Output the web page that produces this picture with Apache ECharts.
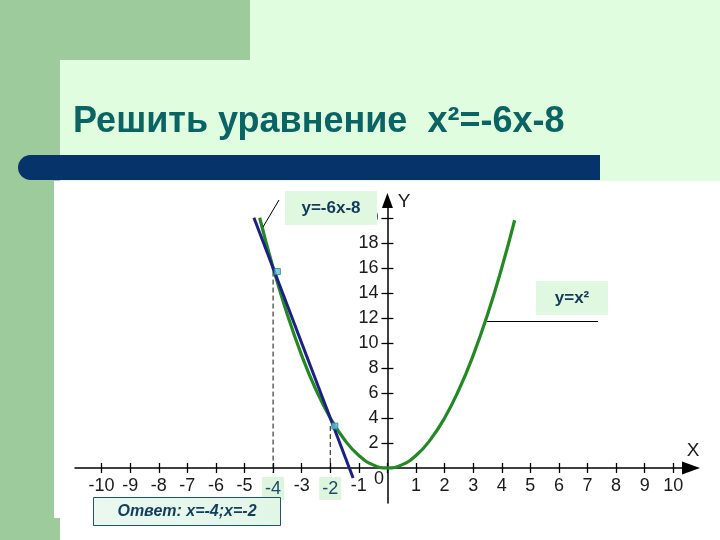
<!DOCTYPE html>
<html>
<head>
<meta charset="utf-8">
<script src="https://cdn.jsdelivr.net/npm/echarts@6/dist/echarts.min.js"></script>
<style>
html,body{margin:0;padding:0;background:#fff;}
.bg{position:absolute;}
#main{position:absolute;left:0;top:0;width:720px;height:540px;}
</style>
</head>
<body>
<div class="bg" style="left:0;top:0;width:720px;height:181px;background:#e0fde0"></div>
<div class="bg" style="left:0;top:0;width:250px;height:60px;background:#9ecb9b"></div>
<div class="bg" style="left:0;top:0;width:60px;height:181px;background:#9ecb9b"></div>
<div class="bg" style="left:60px;top:60px;width:660px;height:121px;background:#e0fde0;border-top-left-radius:22px"></div>
<div class="bg" style="left:0;top:181px;width:54px;height:359px;background:#9ecb9b"></div>
<div class="bg" style="left:0;top:518px;width:60px;height:22px;background:#9ecb9b"></div>
<div class="bg" style="left:18px;top:155px;width:582px;height:25px;background:#05336a;border-radius:12.5px 0 0 12.5px"></div>
<div id="main"></div>
<script>
// деления и подписи осей
var xTicks=[-10,-9,-8,-7,-6,-5,-4,-3,-2,-1,0,1,2,3,4,5,6,7,8,9,10];
var xLabels=[-10,-9,-8,-7,-6,-5,-4,-3,-2,-1,1,2,3,4,5,6,7,8,9,10];
var yTicks=[2,4,6,8,10,12,14,16,18,20];
var xMarked=[-4,-2];

// парабола y=x²
var parX=[-4.47,-4,-3.5,-3,-2.5,-2,-1.5,-1,-0.5,0,0.5,1,1.5,2,2.5,3,3.5,4,4.45];
var parY=[20,16,12.25,9,6.25,4,2.25,1,0.25,0,0.25,1,2.25,4,6.25,9,12.25,16,19.8];

// прямая y=-6x-8
var linX=[-4.67,-1.2];
var linY=[20,-0.8];

// точки пересечения и пунктиры
var rootX=[-3.85,-1.84];
var rootY=[15.7,3.35];
var guideX=[-4,-2];
var guideTop=[15.7,3.35];
var guideBottom=[-0.4,0];

var gridLeft=75,gridTop=200.5,gridW=616,gridH=302.5;
var xMin=-10.93,xMax=10.62,yMin=-2.8,yMax=21.38;
// сдвиг осей внутрь сетки, чтобы они прошли через ноль
var yAxisShift=-gridW*(0-xMin)/(xMax-xMin);
var xAxisShift=-gridH*(0-yMin)/(yMax-yMin);

var chart=echarts.init(document.getElementById('main'),null,{renderer:'canvas'});

function pairs(xs,ys){
	var a=[];
	for(var i=0;i<xs.length;i++){a.push([xs[i],ys[i]]);}
	return a;
}

var series=[
	{type:'line',data:pairs(parX,parY),smooth:true,showSymbol:false,
		lineStyle:{color:'#238a23',width:3.2},z:3,silent:true},
	{type:'line',data:pairs(linX,linY),showSymbol:false,
		lineStyle:{color:'#1c1f85',width:3},z:4,silent:true}
];
for(var i=0;i<guideX.length;i++){
	series.push({type:'line',data:[[guideX[i],guideTop[i]],[guideX[i],guideBottom[i]]],showSymbol:false,
		lineStyle:{color:'#111',width:1,type:[5,3]},z:2,silent:true});
}
series.push({type:'scatter',data:pairs(rootX,rootY),symbol:'rect',symbolSize:6,
	itemStyle:{color:'#5cc8dc',borderColor:'#2b7f99',borderWidth:1},z:6,silent:true});

var axisFont={fontFamily:'"Liberation Sans", Arial',fontSize:18,color:'#1a1a1a'};

var option={
	animation:false,
	backgroundColor:'transparent',
	grid:{left:gridLeft,top:gridTop,width:gridW,height:gridH,containLabel:false},
	xAxis:[
		{type:'value',min:xMin,max:xMax,position:'bottom',offset:xAxisShift,
			axisLine:{onZero:false,symbol:['none','triangle'],symbolSize:[13,18],lineStyle:{color:'#000',width:1.5}},
			axisTick:{customValues:xTicks,length:5,lineStyle:{color:'#000',width:1.3}},
			axisLabel:Object.assign({customValues:xLabels,margin:9,
				formatter:function(v){return xMarked.indexOf(v)>=0?'{h|'+v+'}':String(v);},
				rich:{h:{fontFamily:'"Liberation Sans", Arial',fontSize:18,color:'#1b4a6b',backgroundColor:'#dcf5dc',padding:[3,3,2,3]}}
			},axisFont),
			splitLine:{show:false}},
		{type:'value',min:xMin,max:xMax,position:'bottom',offset:xAxisShift,
			axisLine:{onZero:false,show:false},
			axisTick:{customValues:xTicks,inside:true,length:5,lineStyle:{color:'#000',width:1.3}},
			axisLabel:{show:false},splitLine:{show:false}}
	],
	yAxis:[
		{type:'value',min:yMin,max:yMax,position:'left',offset:yAxisShift,
			axisLine:{onZero:false,symbol:['none','triangle'],symbolSize:[11,15],lineStyle:{color:'#000',width:1.5}},
			axisTick:{customValues:yTicks,length:6,lineStyle:{color:'#000',width:1.3}},
			axisLabel:Object.assign({customValues:yTicks,margin:9},axisFont),
			splitLine:{show:false}},
		{type:'value',min:yMin,max:yMax,position:'left',offset:yAxisShift,
			axisLine:{onZero:false,show:false},
			axisTick:{customValues:yTicks,inside:true,length:6,lineStyle:{color:'#000',width:1.3}},
			axisLabel:{show:false},splitLine:{show:false}}
	],
	series:series
};
chart.setOption(option);

// подписи, привязанные к осям
var o=chart.convertToPixel({xAxisIndex:0,yAxisIndex:0},[0,0]);
var boxFont='bold 17px "Liberation Sans", Arial';
chart.setOption({
	graphic:[
		{type:'text',z:50,style:{x:73,y:122.5,text:'Решить уравнение  x²=-6x-8',
			font:'bold 36px "Liberation Sans", Arial',fill:'#0b6464',verticalAlign:'middle'}},
		{type:'text',z:50,style:{x:o[0]-8.5,y:o[1]+11.5,text:'0',align:'center',verticalAlign:'middle',
			font:'18px "Liberation Sans", Arial',fill:'#1a1a1a'}},
		{type:'text',z:50,style:{x:693,y:451,text:'X',align:'center',verticalAlign:'middle',
			font:'19px "Liberation Sans", Arial',fill:'#1a1a1a'}},
		{type:'text',z:50,style:{x:404,y:202,text:'Y',align:'center',verticalAlign:'middle',
			font:'19px "Liberation Sans", Arial',fill:'#1a1a1a'}},
		// y=-6x-8
		{type:'line',z:50,shape:{x1:263,y1:227,x2:279,y2:200},style:{stroke:'#000',lineWidth:1}},
		{type:'rect',z:50,shape:{x:285,y:191,width:92,height:34},style:{fill:'#e0f8e0'}},
		{type:'text',z:51,style:{x:331,y:208,text:'y=-6x-8',align:'center',verticalAlign:'middle',
			font:boxFont,fill:'#123a5a'}},
		// y=x²
		{type:'line',z:50,shape:{x1:487,y1:321.5,x2:598,y2:321.5},style:{stroke:'#000',lineWidth:1}},
		{type:'rect',z:50,shape:{x:536,y:281,width:72,height:34},style:{fill:'#e0f8e0'}},
		{type:'text',z:51,style:{x:572,y:298,text:'y=x²',align:'center',verticalAlign:'middle',
			font:boxFont,fill:'#123a5a'}},
		// ответ
		{type:'rect',z:50,shape:{x:93.5,y:497.5,width:187,height:28},
			style:{fill:new echarts.graphic.LinearGradient(0,0,1,0,[{offset:0,color:'#eaf8f0'},{offset:1,color:'#e2f6e6'}]),
			stroke:'#1e5566',lineWidth:1}},
		{type:'text',z:51,style:{x:187,y:512,text:'Ответ: x=-4;x=-2',align:'center',verticalAlign:'middle',
			font:'italic bold 16px "Liberation Sans", Arial',fill:'#123e5e'}}
	]
});
</script>
</body>
</html>
